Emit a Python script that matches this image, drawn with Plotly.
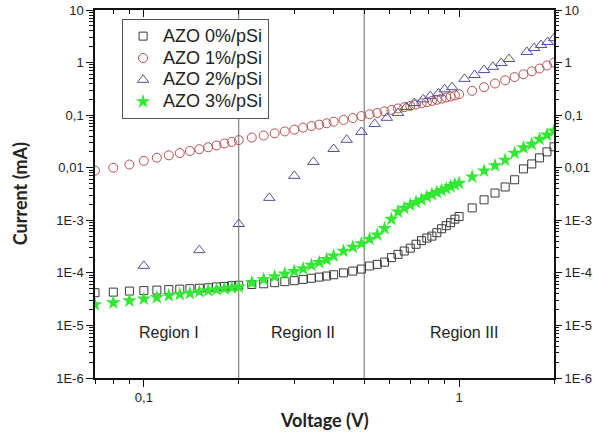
import numpy as np
import plotly.graph_objects as go

# ---------------- data ----------------
v_main = [0.07, 0.08, 0.09, 0.10, 0.11, 0.12, 0.13, 0.14, 0.15, 0.16, 0.17, 0.18, 0.19, 0.20,
          0.22, 0.24, 0.26, 0.28, 0.30, 0.32, 0.34, 0.36, 0.38, 0.40, 0.43, 0.46, 0.49,
          0.52, 0.55, 0.58, 0.61, 0.64, 0.67, 0.70, 0.73, 0.76, 0.79, 0.82, 0.85, 0.88, 0.91, 0.94, 0.97, 1.00,
          1.1, 1.2, 1.3, 1.4, 1.5, 1.6, 1.7, 1.8, 1.9, 2.0]

i_azo0 = [4.2e-5, 4.3e-5, 4.5e-5, 4.6e-5, 4.7e-5, 4.8e-5, 4.9e-5, 5.0e-5, 5.1e-5, 5.2e-5, 5.4e-5, 5.5e-5, 5.7e-5, 5.8e-5,
          6.0e-5, 6.2e-5, 6.5e-5, 6.8e-5, 7.1e-5, 7.5e-5, 7.9e-5, 8.3e-5, 8.7e-5, 9.2e-5, 1.0e-4, 1.08e-4, 1.18e-4,
          1.35e-4, 1.45e-4, 1.6e-4, 1.95e-4, 2.25e-4, 2.6e-4, 2.95e-4, 3.5e-4, 4.1e-4, 4.6e-4, 5.0e-4, 5.8e-4, 6.9e-4,
          7.9e-4, 9.0e-4, 1.05e-3, 1.18e-3,
          1.72e-3, 2.45e-3, 3.3e-3, 4.3e-3, 5.9e-3, 9.5e-3, 1.18e-2, 1.54e-2, 2.0e-2, 2.5e-2]

i_azo1 = [8.8e-3, 1.0e-2, 1.15e-2, 1.35e-2, 1.55e-2, 1.72e-2, 1.9e-2, 2.08e-2, 2.25e-2, 2.45e-2, 2.65e-2, 2.88e-2, 3.1e-2, 3.35e-2,
          0.0375, 0.041, 0.045, 0.049, 0.053, 0.058, 0.062, 0.066, 0.070, 0.075, 0.081, 0.088, 0.096,
          0.104, 0.11, 0.118, 0.126, 0.134, 0.142, 0.15, 0.159, 0.168, 0.177, 0.186, 0.196, 0.206, 0.216, 0.226, 0.237, 0.25,
          0.29, 0.34, 0.40, 0.46, 0.53, 0.60, 0.68, 0.77, 0.88, 1.0]

i_azo3 = [2.5e-5, 2.7e-5, 2.95e-5, 3.2e-5, 3.4e-5, 3.7e-5, 3.9e-5, 4.1e-5, 4.4e-5, 4.6e-5, 4.8e-5, 5.0e-5, 5.2e-5, 5.4e-5,
          6.5e-5, 7.5e-5, 8.5e-5, 9.6e-5, 1.07e-4, 1.2e-4, 1.4e-4, 1.58e-4, 1.8e-4, 2.1e-4, 2.6e-4, 3.1e-4, 3.6e-4,
          4.4e-4, 5.3e-4, 7.0e-4, 1.05e-3, 1.45e-3, 1.7e-3, 1.95e-3, 2.2e-3, 2.45e-3, 2.8e-3, 3.1e-3, 3.4e-3, 3.7e-3,
          4.0e-3, 4.4e-3, 4.8e-3, 5.1e-3,
          6.7e-3, 8.7e-3, 1.1e-2, 1.4e-2, 1.9e-2, 2.4e-2, 2.8e-2, 3.5e-2, 4.2e-2, 5.0e-2]

v_azo2 = [0.10, 0.15, 0.20, 0.25, 0.30, 0.345, 0.40, 0.44, 0.49, 0.54, 0.59, 0.64, 0.68, 0.72, 0.77, 0.81, 0.86, 0.90, 0.95,
          1.04, 1.12, 1.20, 1.28, 1.36, 1.44, 1.64, 1.73, 1.82, 1.91, 2.0]
i_azo2 = [1.36e-4, 2.7e-4, 8.5e-4, 2.67e-3, 7.0e-3, 1.29e-2, 2.27e-2, 3.4e-2, 4.8e-2, 6.8e-2, 8.9e-2, 0.11, 0.143, 0.17,
          0.20, 0.23, 0.26, 0.31, 0.34, 0.49, 0.58, 0.72, 0.83, 0.98, 1.17, 1.59, 1.89, 2.16, 2.46, 2.9]

series_names = ["AZO 0%/pSi", "AZO 1%/pSi", "AZO 2%/pSi", "AZO 3%/pSi"]
region_bounds = [0.2, 0.5]
region_labels = ["Region I", "Region II", "Region III"]
region_label_x = [0.12, 0.32, 1.04]
region_label_y = 7.2e-6

y_tickvals = [1e-6, 1e-5, 1e-4, 1e-3, 1e-2, 1e-1, 1, 10]
y_ticktext = ["1E-6", "1E-5", "1E-4", "1E-3", "0,01", "0,1", "1", "10"]
x_tickvals = [0.1, 1]
x_ticktext = ["0,1", "1"]

x_range = [0.07, 2.0]
y_range = [1e-6, 10]

# ---------------- figure ----------------
tick_font = dict(family="Liberation Sans, Arial, sans-serif", size=13, color="#222")
title_font = dict(family="Lato, Open Sans, sans-serif", size=18, color="#222")
y_minor = [m * 10.0 ** e for e in range(-6, 1) for m in range(2, 10)]
x_minor = [0.07, 0.08, 0.09] + [m * 0.1 for m in range(2, 10)] + [2.0]


def lname(s):
    return '<span style="font-size:18px">' + s + '</span>'


fig = go.Figure()
fig.add_trace(go.Scatter(x=v_main, y=i_azo0, mode="markers", name=lname(series_names[0]),
                         marker=dict(symbol="square-open", size=8, color="#3a3a3a", line=dict(width=1))))
fig.add_trace(go.Scatter(x=v_main, y=i_azo1, mode="markers", name=lname(series_names[1]),
                         marker=dict(symbol="circle-open", size=9, color="#b5504f", line=dict(width=1))))
fig.add_trace(go.Scatter(x=v_azo2, y=i_azo2, mode="markers", name=lname(series_names[2]),
                         marker=dict(symbol="triangle-up-open", size=10, color="#50509e", line=dict(width=1))))
fig.add_trace(go.Scatter(x=v_main, y=i_azo3, mode="markers", name=lname(series_names[3]),
                         marker=dict(symbol="star", size=11, color="#33e833", line=dict(width=0))))
# empty helper traces so the mirrored axes are drawn
fig.add_trace(go.Scatter(x=[], y=[], xaxis="x2", yaxis="y", showlegend=False, hoverinfo="skip"))
fig.add_trace(go.Scatter(x=[], y=[], xaxis="x", yaxis="y2", showlegend=False, hoverinfo="skip"))

for xb in region_bounds:
    fig.add_shape(type="line", xref="x", yref="paper", x0=xb, x1=xb, y0=0, y1=1,
                  line=dict(color="#6a6a6a", width=1), layer="below")

for lab, lxv in zip(region_labels, region_label_x):
    fig.add_annotation(x=np.log10(lxv), y=np.log10(region_label_y), xref="x", yref="y", text=lab,
                       showarrow=False, font=dict(family="Liberation Sans, Arial, sans-serif", size=16, color="#222"))

# axis titles
fig.add_annotation(x=0.5, y=-0.115, xref="paper", yref="paper", text="<b>Voltage (V)</b>",
                   showarrow=False, xanchor="center", yanchor="middle", font=title_font)
fig.add_annotation(x=-0.163, y=0.5, xref="paper", yref="paper", text="<b>Current (mA)</b>", textangle=-90,
                   showarrow=False, xanchor="center", yanchor="middle", font=title_font)

lx = [np.log10(x_range[0]), np.log10(x_range[1])]
ly = [np.log10(y_range[0]), np.log10(y_range[1])]

common = dict(showgrid=False, zeroline=False, automargin=False, tickcolor="#111", ticklen=7, tickwidth=1.2)

fig.update_layout(
    width=600, height=439,
    margin=dict(l=95, r=46, t=10, b=61, autoexpand=False),
    paper_bgcolor="white", plot_bgcolor="white",
    showlegend=True,
    legend=dict(x=0.059, y=0.975, xanchor="left", yanchor="top",
                bgcolor="white", bordercolor="#555", borderwidth=1,
                font=dict(family="Liberation Sans, Arial, sans-serif", size=14.5, color="#222"),
                tracegroupgap=0, itemwidth=30),
    xaxis=dict(type="log", range=lx, showline=True, linecolor="#111", linewidth=1.5, mirror=True,
               ticks="outside", tickmode="array", tickvals=x_tickvals, ticktext=x_ticktext, tickfont=tick_font,
               minor=dict(tickmode="array", tickvals=x_minor, ticks="outside", ticklen=4, tickcolor="#111", showgrid=False),
               **common),
    xaxis2=dict(type="log", range=lx, overlaying="x", side="top", anchor="y", showline=False,
                ticks="inside", tickmode="array", tickvals=x_tickvals, showticklabels=False,
                minor=dict(tickmode="array", tickvals=x_minor, ticks="inside", ticklen=4, tickcolor="#111", showgrid=False),
                **common),
    yaxis=dict(type="log", range=ly, showline=True, linecolor="#111", linewidth=1.5, mirror=True,
               ticks="outside", tickmode="array", tickvals=y_tickvals, ticktext=y_ticktext, tickfont=tick_font,
               minor=dict(tickmode="array", tickvals=y_minor, ticks="outside", ticklen=4, tickcolor="#111", showgrid=False),
               **common),
    yaxis2=dict(type="log", range=ly, overlaying="y", side="right", anchor="x", showline=False,
                ticks="outside", tickmode="array", tickvals=y_tickvals, ticktext=y_ticktext, tickfont=tick_font,
                minor=dict(tickmode="array", tickvals=y_minor, ticks="outside", ticklen=4, tickcolor="#111", showgrid=False),
                **common),
)

fig.write_html("out.html", config={"displayModeBar": False},
               post_script="document.body.style.margin='0';document.body.style.padding='0';")
